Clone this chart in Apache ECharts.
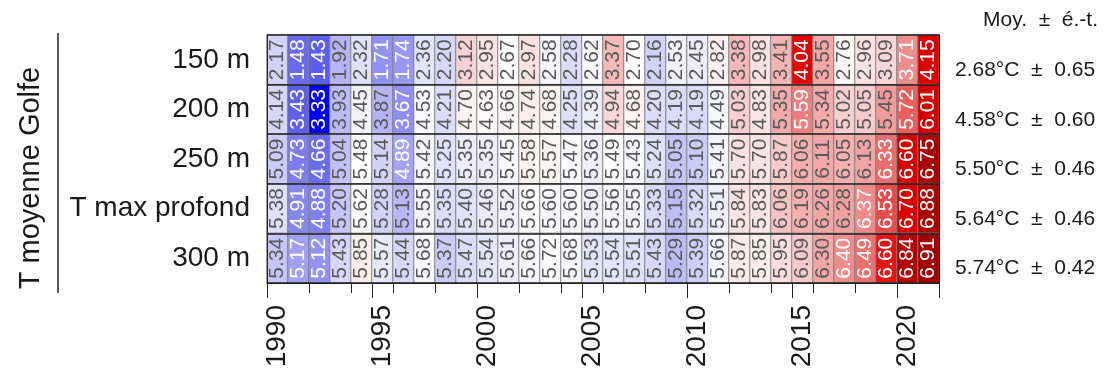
<!DOCTYPE html>
<html>
<head>
<meta charset="utf-8">
<script src="https://cdn.jsdelivr.net/npm/echarts@6/dist/echarts.min.js"></script>
<style>
  html, body { margin: 0; padding: 0; background: #ffffff; }
  #chart { width: 1108px; height: 377px; }
</style>
</head>
<body>
<div id="chart"></div>
<script>
// Years (columns) and depth levels (rows)
const years = ['1990','1991','1992','1993','1994','1995','1996','1997','1998','1999',
               '2000','2001','2002','2003','2004','2005','2006','2007','2008','2009',
               '2010','2011','2012','2013','2014','2015','2016','2017','2018','2019',
               '2020','2021'];
const depthLabels = ['150 m', '200 m', '250 m', 'T max profond', '300 m'];

// Yearly mean temperatures (°C) for each level
const t150 = [2.17,1.48,1.43,1.92,2.32,1.71,1.74,2.36,2.20,3.12,2.95,2.67,2.97,2.58,2.28,2.62,
              3.37,2.70,2.16,2.53,2.45,2.82,3.38,2.98,3.41,4.04,3.55,2.76,2.96,3.09,3.71,4.15];
const t200 = [4.14,3.43,3.33,3.93,4.45,3.87,3.67,4.53,4.21,4.70,4.63,4.66,4.74,4.68,4.25,4.39,
              4.94,4.68,4.20,4.19,4.19,4.49,5.03,4.83,5.35,5.59,5.34,5.02,5.05,5.45,5.72,6.01];
const t250 = [5.09,4.73,4.66,5.04,5.48,5.14,4.89,5.42,5.25,5.35,5.35,5.45,5.58,5.57,5.47,5.36,
              5.49,5.43,5.24,5.05,5.10,5.41,5.70,5.70,5.87,6.06,6.11,6.05,6.13,6.33,6.60,6.75];
const tMax = [5.38,4.91,4.88,5.20,5.62,5.28,5.13,5.55,5.35,5.40,5.46,5.52,5.66,5.60,5.60,5.50,
              5.56,5.55,5.33,5.15,5.32,5.51,5.84,5.83,6.06,6.19,6.26,6.28,6.37,6.53,6.70,6.88];
const t300 = [5.34,5.17,5.12,5.43,5.85,5.57,5.44,5.68,5.37,5.47,5.54,5.61,5.66,5.72,5.68,5.53,
              5.54,5.51,5.43,5.29,5.39,5.66,5.87,5.85,5.95,6.09,6.30,6.40,6.49,6.60,6.84,6.91];

// Reference mean and standard deviation of each level
const rowMean = [2.68, 4.58, 5.50, 5.64, 5.74];
const rowSd   = [0.65, 0.60, 0.46, 0.46, 0.42];

// Diverging palette on standardized anomaly (blue = cold, red = warm)
const colorStops = [
  [-2.08, [0, 0, 245]],
  [-2.00, [70, 70, 238]],
  [-1.90, [100, 100, 238]],
  [-1.50, [145, 145, 243]],
  [-1.20, [178, 178, 246]],
  [-0.75, [214, 214, 250]],
  [ 0.00, [255, 255, 255]],
  [ 0.70, [249, 210, 210]],
  [ 1.10, [246, 182, 182]],
  [ 1.35, [243, 166, 166]],
  [ 1.60, [239, 138, 138]],
  [ 1.90, [232, 96, 96]],
  [ 2.00, [228, 40, 40]],
  [ 2.10, [230, 0, 0]],
  [ 2.40, [212, 0, 0]],
  [ 2.70, [170, 0, 0]],
  [ 2.90, [153, 0, 0]]
];

function anomalyColor(z) {
  if (z <= colorStops[0][0]) return rgb(colorStops[0][1]);
  const last = colorStops[colorStops.length - 1];
  if (z >= last[0]) return rgb(last[1]);
  for (let i = 1; i < colorStops.length; i++) {
    const [z1, c1] = colorStops[i];
    if (z <= z1) {
      const [z0, c0] = colorStops[i - 1];
      const t = (z - z0) / (z1 - z0);
      return rgb(c0.map((v, k) => Math.round(v + (c1[k] - v) * t)));
    }
  }
  return rgb(last[1]);
}
function rgb(c) { return 'rgb(' + c[0] + ',' + c[1] + ',' + c[2] + ')'; }
function textColor(z) { return (z < -1.3 || z > 1.5) ? '#ffffff' : '#5a5a5a'; }

const rows = [t150, t200, t250, tMax, t300];
const cells = [];
rows.forEach((row, r) => {
  row.forEach((v, c) => {
    const z = (v - rowMean[r]) / rowSd[r];
    cells.push({
      value: [c, r, v],
      itemStyle: { color: anomalyColor(z) },
      label: { color: textColor(z) }
    });
  });
});

const statLabels = rowMean.map((m, i) => m.toFixed(2) + '°C  ±  ' + rowSd[i].toFixed(2));
const FONT = 'Liberation Sans, Arial, Helvetica, sans-serif';
const everyFive = (idx) => idx % 5 === 0;

const chart = echarts.init(document.getElementById('chart'), null, { renderer: 'canvas' });
chart.setOption({
  animation: false,
  backgroundColor: '#ffffff',
  grid: { left: 267, right: 169, top: 35, bottom: 94, containLabel: false },
  xAxis: [
    {
      type: 'category', data: years, position: 'bottom', z: 3,
      axisLine: { show: true, lineStyle: { color: '#222222', width: 1 } },
      axisTick: { show: true, length: 10, lineStyle: { color: '#222222', width: 1 } },
      axisLabel: { show: false },
      splitLine: { show: false }
    },
    {
      type: 'category', data: years, position: 'bottom', z: 3,
      axisLine: { show: false },
      axisTick: { show: true, length: 15, interval: everyFive, lineStyle: { color: '#222222', width: 1 } },
      axisLabel: {
        show: true, interval: everyFive, rotate: 90, margin: 22,
        fontSize: 28, fontFamily: FONT, color: '#1a1a1a',
        padding: [0, 0, 10, 0]
      },
      splitLine: { show: false }
    }
  ],
  yAxis: [
    {
      type: 'category', data: depthLabels, inverse: true, position: 'left', z: 3,
      axisLine: { show: true, lineStyle: { color: '#222222', width: 1 } },
      axisTick: { show: false },
      axisLabel: { fontSize: 28, fontFamily: FONT, color: '#1a1a1a', margin: 17, padding: [0, 0, 8, 0] },
      splitLine: { show: true, lineStyle: { color: '#222222', width: 1.5 } }
    },
    {
      type: 'category', data: statLabels, inverse: true, position: 'right', z: 3,
      axisLine: { show: true, lineStyle: { color: '#222222', width: 1 } },
      axisTick: { show: false },
      axisLabel: { fontSize: 21, fontFamily: FONT, color: '#1a1a1a', margin: 16, verticalAlign: 'top' },
      splitLine: { show: false }
    }
  ],
  series: [{
    type: 'heatmap',
    xAxisIndex: 0, yAxisIndex: 0,
    data: cells,
    itemStyle: { borderColor: '#808080', borderWidth: 1 },
    label: {
      show: true, rotate: 90, fontSize: 21, fontFamily: FONT,
      formatter: (p) => p.value[2].toFixed(2)
    },
    emphasis: { disabled: true }
  }],
  graphic: [
    {
      type: 'text', x: 31, y: 178, rotation: Math.PI / 2,
      style: { text: 'T moyenne Golfe', font: '29px ' + FONT, fill: '#1a1a1a', align: 'center', verticalAlign: 'middle' }
    },
    {
      type: 'line', shape: { x1: 58, y1: 33, x2: 58, y2: 293 },
      style: { stroke: '#222222', lineWidth: 1.5 }
    },
    {
      type: 'text', x: 1098, y: 20,
      style: { text: 'Moy.  ±  é.-t.', font: '21px ' + FONT, fill: '#1a1a1a', align: 'right', verticalAlign: 'middle' }
    }
  ]
});
</script>
</body>
</html>
